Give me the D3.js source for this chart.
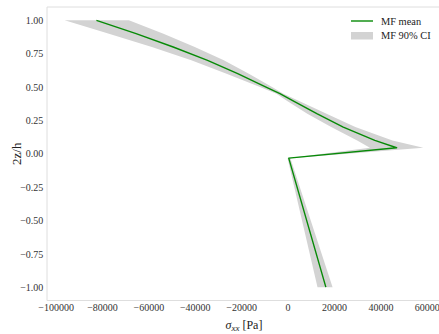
<!DOCTYPE html>
<html><head><meta charset="utf-8">
<script src="https://cdn.jsdelivr.net/npm/d3@7"></script>
<style>
html,body{margin:0;padding:0;background:#fff;}
svg{display:block;}
</style></head>
<body>
<script>
// Data
const zLevels  = [1.0, 0.9, 0.8, 0.7, 0.6, 0.5, 0.45, 0.4, 0.3, 0.2, 0.1, 0.045, -0.033, -1.0];
const meanVals = [-82400, -65300, -49300, -34500, -21500, -9300, -3300, 2000, 12600, 24000, 37600, 47000, 500, 16500];
const ciLow    = [-96100, -77000, -58500, -41500, -26300, -11900, -4800, -500, 8500, 18800, 30000, 35500, 0, 12900];
const ciHigh   = [-68400, -53500, -40000, -27500, -16700, -6700, -1800, 4500, 16800, 29200, 45200, 58500, 1200, 19400];
const xTicks = [-100000, -80000, -60000, -40000, -20000, 0, 20000, 40000, 60000];
const yTicks = [-1.0, -0.75, -0.5, -0.25, 0.0, 0.25, 0.5, 0.75, 1.0];
const legendLabels = ["MF mean", "MF 90% CI"];

const FONT = "'Liberation Serif','Times New Roman',serif";
const W = 439, H = 334;
const margin = {left: 47, top: 7, right: -1, bottom: 33.5};
const svg = d3.select("body").append("svg").attr("width", W).attr("height", H);

const x = d3.scaleLinear().domain([-103700, 65700]).range([margin.left, W - margin.right]);
const y = d3.scaleLinear().domain([-1.1, 1.1]).range([H - margin.bottom, margin.top]);

const rows = zLevels.map((z, i) => ({z, m: meanVals[i], lo: ciLow[i], hi: ciHigh[i]}));

// CI band (polygon: low edge down, high edge back up)
const bandPts = rows.map(d => [x(d.lo), y(d.z)])
  .concat(rows.slice().reverse().map(d => [x(d.hi), y(d.z)]));
svg.append("path")
  .attr("fill", "#d3d3d3")
  .attr("stroke", "none")
  .attr("d", d3.line()(bandPts) + "Z");

// Mean line
svg.append("path")
  .datum(rows)
  .attr("fill", "none")
  .attr("stroke", "#078a07")
  .attr("stroke-width", 1.4)
  .attr("stroke-linejoin", "round")
  .attr("d", d3.line().x(d => x(d.m)).y(d => y(d.z)));

// Spines
const spine = "#dedede";
svg.append("line").attr("x1", margin.left).attr("x2", margin.left).attr("y1", margin.top).attr("y2", H - margin.bottom).attr("stroke", spine);
svg.append("line").attr("x1", margin.left).attr("x2", W).attr("y1", H - margin.bottom).attr("y2", H - margin.bottom).attr("stroke", spine);
svg.append("line").attr("x1", margin.left).attr("x2", W).attr("y1", margin.top).attr("y2", margin.top).attr("stroke", spine);

// Axes
const xAxis = svg.append("g").attr("transform", `translate(0,${H - margin.bottom})`)
  .call(d3.axisBottom(x).tickValues(xTicks).tickFormat(d3.format("d")).tickSize(0).tickPadding(3.5));
const yAxis = svg.append("g").attr("transform", `translate(${margin.left},0)`)
  .call(d3.axisLeft(y).tickValues(yTicks).tickFormat(d3.format(".2f")).tickSize(0).tickPadding(3.7));
[xAxis, yAxis].forEach(g => {
  g.attr("font-family", null).attr("font-size", null);
  g.select(".domain").remove();
  g.selectAll("text").style("font-family", FONT).style("font-size", "10px").attr("fill", "#333");
});

// Axis labels
const xl = svg.append("text").attr("x", (margin.left + W) / 2 + 1).attr("y", 328.5)
  .attr("text-anchor", "middle").style("font-family", FONT).style("font-size", "12px").attr("fill", "#222");
xl.append("tspan").style("font-style", "italic").text("σ");
xl.append("tspan").style("font-style", "italic").style("font-size", "9px").attr("dy", 2.5).text("xx");
xl.append("tspan").attr("dy", -2.5).text(" [Pa]");

svg.append("text").attr("transform", `translate(20.5,${(margin.top + H - margin.bottom) / 2}) rotate(-90)`)
  .attr("text-anchor", "middle").style("font-family", FONT).style("font-size", "13px").attr("fill", "#222").text("2z/h");

// Legend
const lg = svg.append("g");
lg.append("line").attr("x1", 351).attr("x2", 373).attr("y1", 21).attr("y2", 21)
  .attr("stroke", "#078a07").attr("stroke-width", 1.4);
lg.append("rect").attr("x", 351).attr("y", 32).attr("width", 22).attr("height", 7.5).attr("fill", "#d3d3d3");
legendLabels.forEach((t, i) => {
  lg.append("text").attr("x", 381).attr("y", 24.5 + i * 14.5)
    .style("font-family", FONT).style("font-size", "10.4px").attr("fill", "#222").text(t);
});
</script>
</body></html>
